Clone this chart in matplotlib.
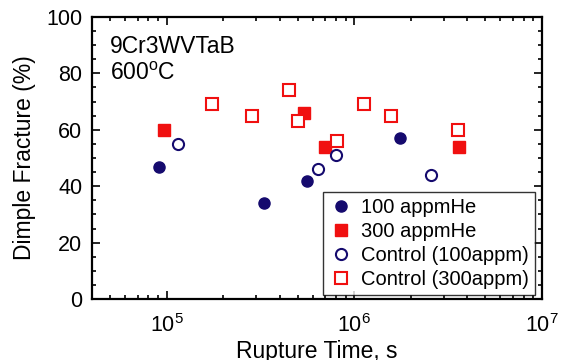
import matplotlib
matplotlib.use("Agg")
import matplotlib.pyplot as plt

plt.rcParams['font.family'] = ['Liberation Sans', 'DejaVu Sans']
plt.rcParams['mathtext.fontset'] = 'custom'
plt.rcParams['mathtext.rm'] = 'Liberation Sans'
plt.rcParams['mathtext.it'] = 'Liberation Sans:italic'

he100_t = [9.1e4, 3.3e5, 5.6e5, 1.76e6]
he100_d = [47, 34, 42, 57]
he300_t = [9.7e4, 5.4e5, 7.0e5, 3.6e6]
he300_d = [60, 66, 54, 54]
c100_t = [1.15e5, 6.4e5, 8.0e5, 2.57e6]
c100_d = [55, 46, 51, 44]
c300_t = [1.75e5, 2.86e5, 4.5e5, 5.0e5, 8.1e5, 1.13e6, 1.57e6, 3.55e6]
c300_d = [69, 65, 74, 63, 56, 69, 65, 60]

navy = '#150a6e'
red = '#f01010'

fig = plt.figure(figsize=(5.61, 3.6), dpi=100)
ax = fig.add_axes([0.164, 0.169, 0.802, 0.784])

ms = 8
ax.plot(he100_t, he100_d, 'o', color=navy, ms=ms, mec=navy, label='100 appmHe', ls='none')
ax.plot(he300_t, he300_d, 's', color=red, ms=ms, mec=red, label='300 appmHe', ls='none')
ax.plot(c100_t, c100_d, 'o', mfc='white', mec=navy, ms=ms, mew=1.5, label='Control (100appm)', ls='none')
ax.plot(c300_t, c300_d, 's', mfc='white', mec=red, ms=ms, mew=1.5, label='Control (300appm)', ls='none')

ax.set_xscale('log')
ax.set_xlim(4e4, 1e7)
ax.set_ylim(0, 100)
ax.set_yticks([0, 20, 40, 60, 80, 100])
ax.set_yticks(range(0, 101, 5), minor=True)

ax.tick_params(which='both', direction='in', top=True, right=True, labelsize=15.5, width=1.2)
ax.tick_params(which='major', length=6)
ax.tick_params(which='minor', length=3)
ax.tick_params(axis='x', pad=11)
ax.tick_params(axis='y', pad=7)
for s in ax.spines.values():
    s.set_linewidth(1.6)

ax.set_xlabel('Rupture Time, s', fontsize=16.5, labelpad=2)
ax.set_ylabel('Dimple Fracture (%)', fontsize=16.5, labelpad=7)

ax.text(0.04, 0.935, '9Cr3WVTaB\n600$^{\\mathrm{o}}$C', transform=ax.transAxes,
        fontsize=16.5, va='top', ha='left', linespacing=1.2)

leg = ax.legend(loc='lower right', bbox_to_anchor=(0.985, 0.015), borderaxespad=0,
                fontsize=14.5, frameon=True, fancybox=False, edgecolor='black',
                handletextpad=0.4, handlelength=1.2, borderpad=0.3, labelspacing=0.25)
leg.get_frame().set_linewidth(1.0)

fig.savefig('out.png', dpi=100)
